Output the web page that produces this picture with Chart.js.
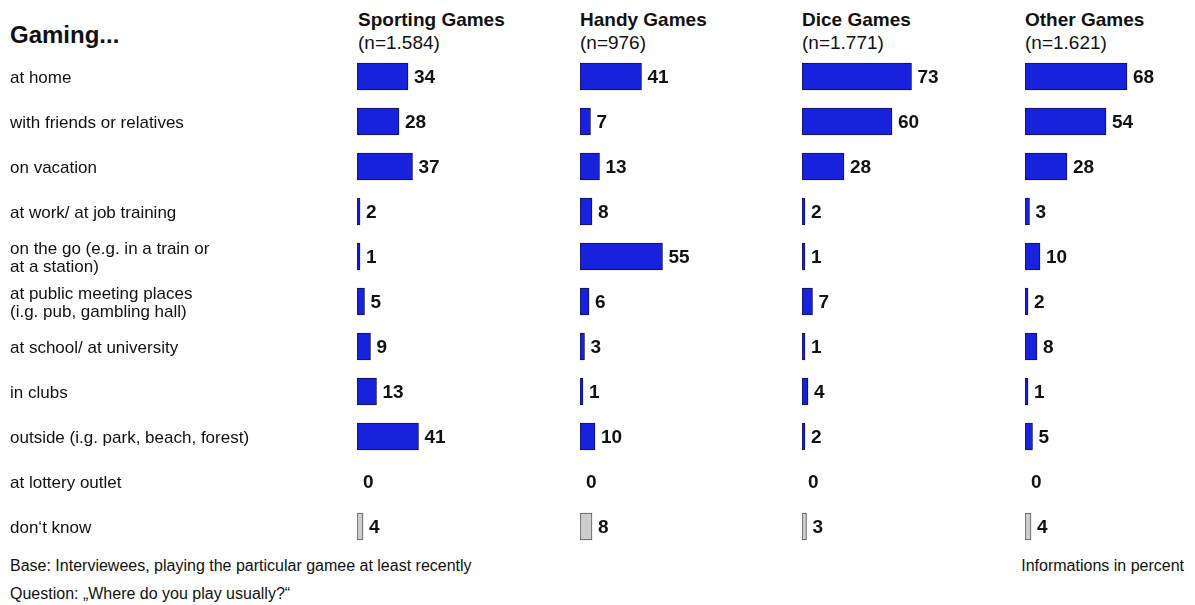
<!DOCTYPE html>
<html>
<head>
<meta charset="utf-8">
<title>Gaming - where do you play usually?</title>
<script src="https://cdn.jsdelivr.net/npm/chart.js@4.4.1/dist/chart.umd.min.js"></script>
<style>
  html, body { margin: 0; padding: 0; background: #fff; overflow: hidden; }
  #wrap { position: relative; width: 1195px; height: 605px; font-family: "Liberation Sans", Arial, sans-serif; color: #111; }
  .txt { position: absolute; white-space: nowrap; }
  .title { font-weight: bold; font-size: 24px; }
  .head b { font-size: 19px; display: block; line-height: 23px; }
  .head span { font-size: 19px; display: block; line-height: 23px; }
  .foot { font-size: 16px; }
  canvas { position: absolute; top: 54px; }
</style>
</head>
<body>
<div id="wrap">
  <div class="txt title" style="left:10px; top:21px;">Gaming...</div>

  <div class="txt head" style="left:358px; top:8px;"><b>Sporting Games</b><span>(n=1.584)</span></div>
  <div class="txt head" style="left:580px; top:8px;"><b>Handy Games</b><span>(n=976)</span></div>
  <div class="txt head" style="left:802px; top:8px;"><b>Dice Games</b><span>(n=1.771)</span></div>
  <div class="txt head" style="left:1025px; top:8px;"><b>Other Games</b><span>(n=1.621)</span></div>

  <canvas id="c0" width="525" height="495" style="left:0px;"></canvas>
  <canvas id="c1" width="168" height="495" style="left:580px;"></canvas>
  <canvas id="c2" width="168" height="495" style="left:802px;"></canvas>
  <canvas id="c3" width="168" height="495" style="left:1025px;"></canvas>

  <div class="txt foot" style="left:10px; top:557px;">Base: Interviewees, playing the particular gamee at least recently</div>
  <div class="txt foot" style="left:10px; top:585px;">Question: „Where do you play usually?“</div>
  <div class="txt foot" style="right:11px; top:557px;">Informations in percent</div>
</div>

<script>
const places = [
  'at home',
  'with friends or relatives',
  'on vacation',
  'at work/ at job training',
  ['on the go (e.g. in a train or', 'at a station)'],
  ['at public meeting places', '(i.g. pub, gambling hall)'],
  'at school/ at university',
  'in clubs',
  'outside (i.g. park, beach, forest)',
  'at lottery outlet',
  'don‘t know'
];

const sporting = [34, 28, 37, 2, 1, 5, 9, 13, 41, 0, 4];
const handy    = [41, 7, 13, 8, 55, 6, 3, 1, 10, 0, 8];
const dice     = [73, 60, 28, 2, 1, 7, 1, 4, 2, 0, 3];
const other    = [68, 54, 28, 3, 10, 2, 8, 1, 5, 0, 4];

const FONT = '"Liberation Sans", Arial, sans-serif';
const BLUE = 'rgb(24, 33, 220)';
const BLUE_EDGE = '#12124f';
const GREY = '#cdcdcd';
const GREY_EDGE = '#555555';
const DONT_KNOW = places.length - 1;

// value printed right next to the end of each bar
const valueLabels = {
  id: 'valueLabels',
  afterDatasetsDraw(chart) {
    const ctx = chart.ctx;
    const x = chart.scales.x;
    const ds = chart.data.datasets[0];
    ctx.save();
    ctx.font = 'bold 19px ' + FONT;
    ctx.fillStyle = '#111';
    ctx.textAlign = 'left';
    ctx.textBaseline = 'middle';
    chart.getDatasetMeta(0).data.forEach((bar, i) => {
      const v = ds.data[i];
      const end = Math.max(x.getPixelForValue(v), x.getPixelForValue(0) + 3);
      ctx.fillText(String(v), v === 0 ? end + 3 : end + 6, bar.y + 1);
    });
    ctx.restore();
  }
};

function fill(c) {
  if (c.raw === 0) return 'rgba(0,0,0,0)';
  return c.dataIndex === DONT_KNOW ? GREY : BLUE;
}

function makePanel(id, values, withLabels) {
  return new Chart(document.getElementById(id), {
    type: 'bar',
    data: {
      labels: places,
      datasets: [{
        data: values,
        backgroundColor: fill,
        borderColor: c => c.dataIndex === DONT_KNOW ? GREY_EDGE : BLUE_EDGE,
        borderWidth: c => c.raw === 0 ? 0 : 1,
        borderSkipped: false,
        barThickness: 27,
        minBarLength: 3
      }]
    },
    options: {
      indexAxis: 'y',
      responsive: false,
      animation: false,
      devicePixelRatio: 1,
      layout: { padding: { left: withLabels ? 10 : 0, right: 0, top: 0, bottom: 0 } },
      plugins: { legend: { display: false }, tooltip: { enabled: false } },
      scales: {
        x: { display: false, min: 0, max: 112 },
        y: {
          display: withLabels,
          grid: { display: false, drawTicks: false },
          border: { display: false },
          ticks: {
            crossAlign: 'far',
            padding: 0,
            labelOffset: 2,
            color: '#111',
            font: { family: FONT, size: 17, lineHeight: 1.05 }
          },
          afterFit(scale) {
            // rows must line up across the four panels
            scale.paddingTop = 0;
            scale.paddingBottom = 0;
            if (withLabels) scale.width = 347;
          }
        }
      }
    },
    plugins: [valueLabels]
  });
}

makePanel('c0', sporting, true);
makePanel('c1', handy, false);
makePanel('c2', dice, false);
makePanel('c3', other, false);
</script>
</body>
</html>
